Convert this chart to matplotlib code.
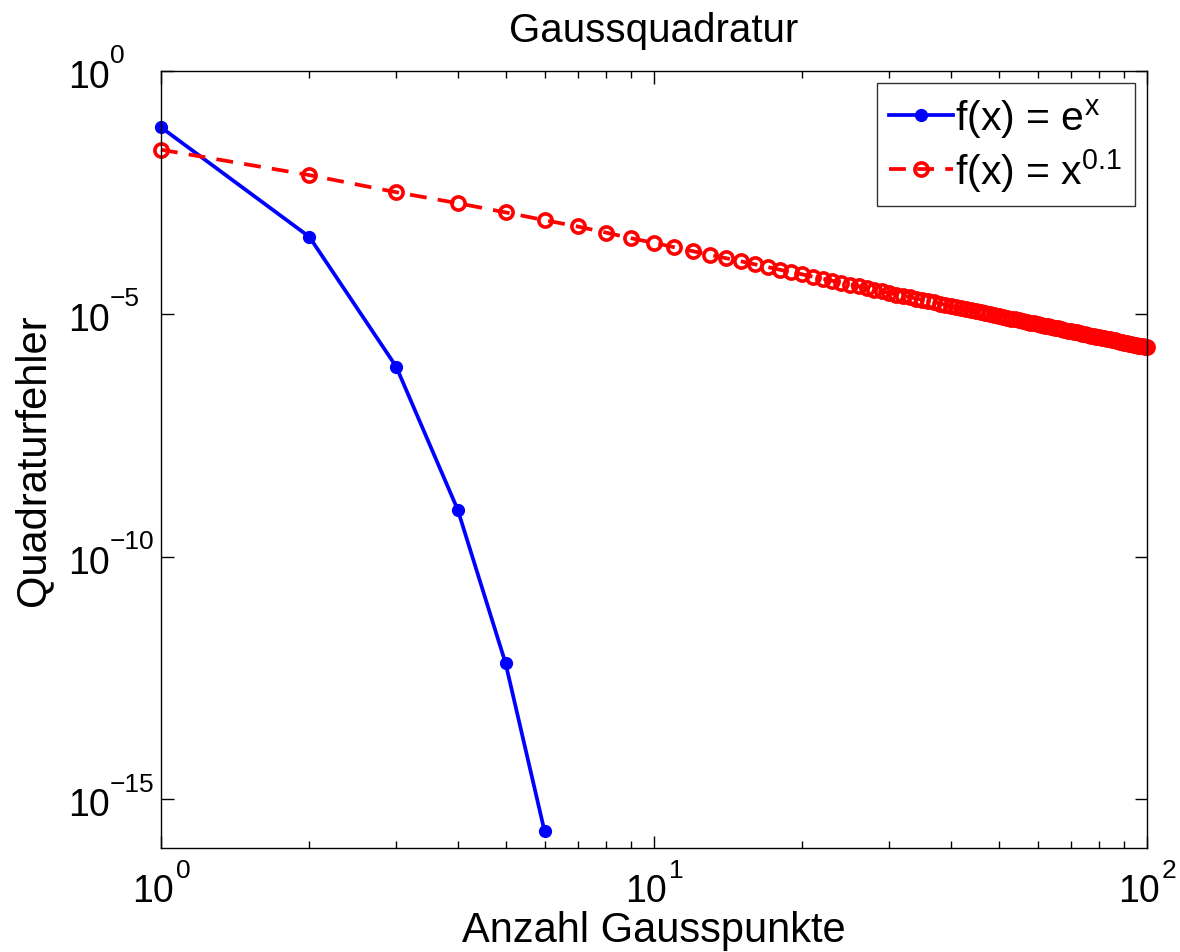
import numpy as np
import matplotlib
matplotlib.use('Agg')
import matplotlib.pyplot as plt
from matplotlib.ticker import FixedLocator, LogLocator, NullLocator, NullFormatter

plt.rcParams['font.family'] = ['Liberation Sans', 'DejaVu Sans']
plt.rcParams['mathtext.fontset'] = 'custom'
plt.rcParams['mathtext.rm'] = 'Liberation Sans'
plt.rcParams['mathtext.it'] = 'Liberation Sans'

# Fehler der Gaussquadratur
n_exp = [1, 2, 3, 4, 5, 6]
err_exp = [6.96e-2, 3.85e-4, 8.2e-7, 9.2e-10, 6.4e-13, 2.2e-16]

n_pow = list(range(1, 101))
err_pow = [
    2.4e-2, 7.2e-3, 3.2e-3, 1.9e-3, 1.23e-3, 8.5e-4, 6.3e-4, 4.7e-4, 3.6e-4, 2.9e-4,
    2.35e-4, 1.95e-4, 1.64e-4, 1.40e-4, 1.21e-4, 1.05e-4, 9.2e-5, 8.1e-5, 7.3e-5, 6.5e-5,
    5.85e-5, 5.3e-5, 4.8e-5, 4.4e-5, 4.0e-5, 3.7e-5, 3.4e-5, 3.15e-5, 2.9e-5, 2.7e-5,
    2.5e-5, 2.37e-5, 2.2e-5, 2.07e-5, 1.95e-5, 1.84e-5, 1.73e-5, 1.63e-5, 1.55e-5, 1.47e-5,
    1.39e-5, 1.32e-5, 1.25e-5, 1.19e-5, 1.14e-5, 1.08e-5, 1.03e-5, 9.9e-6, 9.5e-6, 9.1e-6,
    8.7e-6, 8.3e-6, 8.0e-6, 7.7e-6, 7.4e-6, 7.1e-6, 6.8e-6, 6.6e-6, 6.35e-6, 6.1e-6,
    5.9e-6, 5.7e-6, 5.5e-6, 5.3e-6, 5.15e-6, 5.0e-6, 4.83e-6, 4.68e-6, 4.54e-6, 4.4e-6,
    4.27e-6, 4.14e-6, 4.02e-6, 3.9e-6, 3.79e-6, 3.68e-6, 3.58e-6, 3.48e-6, 3.39e-6, 3.3e-6,
    3.21e-6, 3.13e-6, 3.05e-6, 2.97e-6, 2.9e-6, 2.83e-6, 2.75e-6, 2.69e-6, 2.62e-6, 2.56e-6,
    2.5e-6, 2.44e-6, 2.39e-6, 2.33e-6, 2.28e-6, 2.23e-6, 2.18e-6, 2.13e-6, 2.08e-6, 2.04e-6,
]

x_ticks = [1, 10, 100]
y_ticks = [1e-15, 1e-10, 1e-5, 1]

fig = plt.figure(figsize=(11.8, 9.53), dpi=100)
ax = fig.add_axes([0.1364, 0.1091, 0.8356, 0.8153])

ax.loglog(n_exp, err_exp, '-', color='#0000ff', lw=2.7, marker='o', ms=8.5,
          mfc='#0000ff', mec='#0000ff', label=r'f(x) = e$^{\mathregular{x}}$', clip_on=False)
ax.loglog(n_pow, err_pow, '--', color='#ff0000', lw=2.7, marker='o', ms=9.5,
          mfc='none', mec='#ff0000', mew=2.6, dashes=(4.5, 3),
          label=r'f(x) = x$^{\mathregular{0.1}}$', clip_on=False)

ax.set_xlim(1, 100)
ax.set_ylim(1e-16, 1)

ax.yaxis.set_major_locator(FixedLocator(y_ticks))
ax.yaxis.set_minor_locator(NullLocator())
ax.xaxis.set_major_locator(FixedLocator(x_ticks))
ax.xaxis.set_minor_locator(LogLocator(base=10, subs=np.arange(2, 10)))
ax.xaxis.set_major_formatter(NullFormatter())
ax.yaxis.set_major_formatter(NullFormatter())
ax.xaxis.set_minor_formatter(NullFormatter())

ax.tick_params(which='both', direction='in', top=True, right=True, width=1)
ax.tick_params(which='major', length=9)
ax.tick_params(which='minor', length=5)
for s in ax.spines.values():
    s.set_linewidth(1)


# Tick-Beschriftungen im MATLAB-Stil: 10 mit hoch gestelltem Exponenten
def exp_str(v):
    return str(int(round(np.log10(v)))).replace('-', '\u2212')


for v in x_ticks:
    ax.annotate('10', xy=(v, 0), xycoords=('data', 'axes fraction'), xytext=(9.4, -38.2),
                textcoords='offset points', ha='right', va='baseline', fontsize=27,
                annotation_clip=False)
    ax.annotate(exp_str(v), xy=(v, 0), xycoords=('data', 'axes fraction'), xytext=(10.5, -21.1),
                textcoords='offset points', ha='left', va='baseline', fontsize=19,
                annotation_clip=False)

for v in y_ticks:
    ax.annotate('10', xy=(0, v), xycoords=('axes fraction', 'data'), xytext=(-67, -11.5),
                textcoords='offset points', ha='left', va='baseline', fontsize=27,
                annotation_clip=False)
    ax.annotate(exp_str(v), xy=(0, v), xycoords=('axes fraction', 'data'), xytext=(-36.7, 6.3),
                textcoords='offset points', ha='left', va='baseline', fontsize=19,
                annotation_clip=False)

ax.set_title('Gaussquadratur', fontsize=29, pad=21.5)
ax.set_xlabel('Anzahl Gausspunkte', fontsize=30)
ax.set_ylabel('Quadraturfehler', fontsize=30)
ax.xaxis.set_label_coords(0.5, -0.0798)
ax.yaxis.set_label_coords(-0.109, 0.5)

leg = ax.legend(loc='upper right', fontsize=29.5, frameon=True, fancybox=False,
                edgecolor='black', handlelength=1.56, handletextpad=0.05,
                borderpad=0.3, labelspacing=0.15, borderaxespad=0.3)
leg.get_frame().set_linewidth(1)

fig.savefig('out.png', dpi=100)
